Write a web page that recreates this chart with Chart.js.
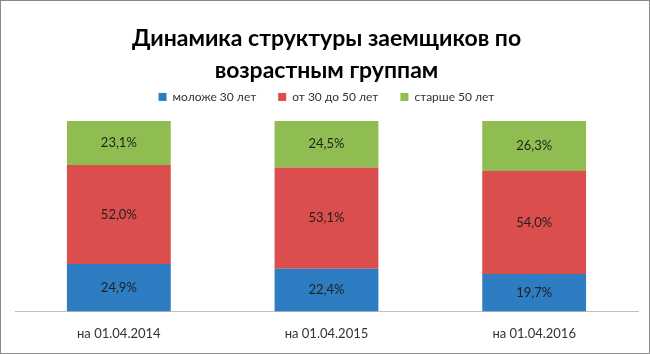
<!DOCTYPE html>
<html>
<head>
<meta charset="utf-8">
<script src="https://cdn.jsdelivr.net/npm/chart.js@4/dist/chart.umd.min.js"></script>
<style>
  html, body { margin: 0; padding: 0; background: #fff; }
  .frame { position: relative; width: 648px; height: 352px; border: 1px solid #8a8a8a; }
  canvas { display: block; }
</style>
</head>
<body>
<div class="frame"><canvas id="chart" width="648" height="352"></canvas></div>
<script>
const categories = ['на 01.04.2014', 'на 01.04.2015', 'на 01.04.2016'];
const seriesNames = ['моложе 30 лет', 'от 30 до 50 лет', 'старше 50 лет'];
const under30 = [24.9, 22.4, 19.7];
const from30to50 = [52.0, 53.1, 54.0];
const over50 = [23.1, 24.5, 26.3];
const colors = ['#2e7dc2', '#db4e4e', '#8fbd51'];

const fontFamily = 'Lato, "Open Sans", sans-serif';

// a bit more room between the legend and the bars
const legendGap = {
    id: 'legendGap',
    beforeInit(chart) {
        const fit = chart.legend.fit;
        chart.legend.fit = function () {
            fit.call(this);
            this.height += 8;
        };
    },
};

const barLabels = {
    id: 'barLabels',
    afterDatasetsDraw(chart) {
        const ctx = chart.ctx;
        ctx.save();
        ctx.font = `13px ${fontFamily}`;
        ctx.fillStyle = '#1f1f1f';
        ctx.textAlign = 'center';
        ctx.textBaseline = 'middle';
        chart.data.datasets.forEach((dataset, i) => {
            chart.getDatasetMeta(i).data.forEach((bar, j) => {
                const value = dataset.data[j].toFixed(1).replace('.', ',') + '%';
                ctx.fillText(value, bar.x, (bar.y + bar.base) / 2);
            });
        });
        ctx.restore();
    },
};

new Chart(document.getElementById('chart'), {
    type: 'bar',
    data: {
        labels: categories,
        datasets: [
            { label: seriesNames[0], data: under30, backgroundColor: colors[0] },
            { label: seriesNames[1], data: from30to50, backgroundColor: colors[1] },
            { label: seriesNames[2], data: over50, backgroundColor: colors[2] },
        ],
    },
    options: {
        responsive: false,
        animation: false,
        layout: { padding: { left: 14, right: 11, top: 18, bottom: 4 } },
        datasets: {
            bar: { categoryPercentage: 0.5, barPercentage: 1 },
        },
        plugins: {
            title: {
                display: true,
                text: ['Динамика структуры заемщиков по', 'возрастным группам'],
                color: '#000',
                font: { family: fontFamily, size: 23, weight: 'bold', lineHeight: 1.39 },
                padding: { top: 4, bottom: -18 },
            },
            legend: {
                position: 'top',
                labels: {
                    color: '#333',
                    boxWidth: 8,
                    boxHeight: 8,
                    padding: 22,
                    font: { family: fontFamily, size: 12 },
                },
            },
            tooltip: { enabled: false },
        },
        scales: {
            x: {
                stacked: true,
                grid: { display: false },
                border: { display: true, color: '#bfbfbf', width: 1 },
                ticks: { color: '#333', padding: 7, font: { family: fontFamily, size: 13 } },
            },
            y: {
                stacked: true,
                display: false,
                min: 0,
                max: 100,
            },
        },
    },
    plugins: [legendGap, barLabels],
});
</script>
</body>
</html>
